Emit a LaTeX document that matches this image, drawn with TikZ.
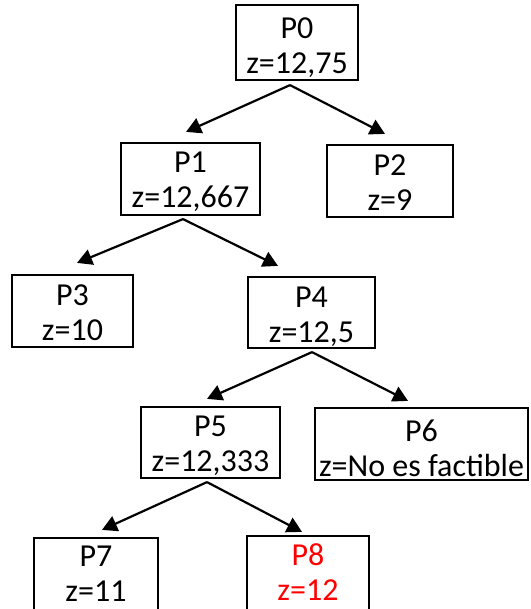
\documentclass[tikz,border=0pt]{standalone}
\usepackage{fontspec}
\setmainfont{Carlito}
\usetikzlibrary{arrows.meta}
\begin{document}
\begin{tikzpicture}[x=1pt,y=-1pt,
  box/.style={draw=black, line width=2.2pt, inner sep=0pt, fill=white},
  txt/.style={anchor=north, inner sep=0pt, align=center, font=\fontsize{32}{35}\selectfont},
  arr/.style={draw=black, line width=2.2pt, -{Triangle[length=15pt,width=16pt]}}]
\useasboundingbox (0,0) rectangle (530,609);
\fill[white] (0,0) rectangle (530,609);
% boxes
\node[box, minimum width=122pt, minimum height=75pt] (p0) at (297,42.5) {};
\node[box, minimum width=139pt, minimum height=72pt] (p1) at (190.5,179) {};
\node[box, minimum width=126pt, minimum height=72pt] (p2) at (390,181) {};
\node[box, minimum width=121pt, minimum height=72pt] (p3) at (72.5,311) {};
\node[box, minimum width=127pt, minimum height=71pt] (p4) at (311.5,312.5) {};
\node[box, minimum width=139pt, minimum height=71pt] (p5) at (210.5,442.5) {};
\node[box, minimum width=213pt, minimum height=72pt] (p6) at (421.5,444) {};
\node[box, minimum width=124pt, minimum height=76pt] (p7) at (96,576) {};
\node[box, minimum width=122pt, minimum height=76pt] (p8) at (308,574) {};
% texts
\node[txt] (t0) at ([yshift=-14pt]p0.north) {P0\\z=12,75};
\node[txt] (t1) at ([yshift=-10pt]p1.north) {P1\\z=12,667};
\node[txt] (t2) at ([yshift=-11pt]p2.north) {P2\\z=9};
\node[txt] (t3) at ([yshift=-11pt]p3.north) {P3\\z=10};
\node[txt] (t4) at ([yshift=-11pt]p4.north) {P4\\z=12,5};
\node[txt] (t5) at ([yshift=-10pt]p5.north) {P5\\z=12,333};
\node[txt] (t6) at ([yshift=-13pt]p6.north) {P6\\z=No es factible};
\node[txt] (t7) at ([yshift=-9pt]p7.north) {P7\\z=11};
\node[txt, text=red] (t8) at ([yshift=-9pt]p8.north) {P8\\z=12};
% connectors
\draw[arr] ([shift={(-7,4)}]p0.south) -- ([shift={(-4.5,-10)}]p1.north);
\draw[arr] ([shift={(-7,4)}]p0.south) -- ([shift={(-5,-10)}]p2.north);
\draw[arr] ([shift={(-7.5,3)}]p1.south) -- ([shift={(4.5,-11)}]p3.north);
\draw[arr] ([shift={(-7.5,3)}]p1.south) -- ([shift={(-33.5,-10)}]p4.north);
\draw[arr] ([shift={(0.5,3)}]p4.south) -- ([shift={(-3.5,-7)}]p5.north);
\draw[arr] ([shift={(0.5,3)}]p4.south) -- ([shift={(-13.5,-6)}]p6.north);
\draw[arr] ([shift={(-3.5,3)}]p5.south) -- ([shift={(6,-7)}]p7.north);
\draw[arr] ([shift={(-3.5,3)}]p5.south) -- ([shift={(-6,-3)}]p8.north);
\end{tikzpicture}
\end{document}
